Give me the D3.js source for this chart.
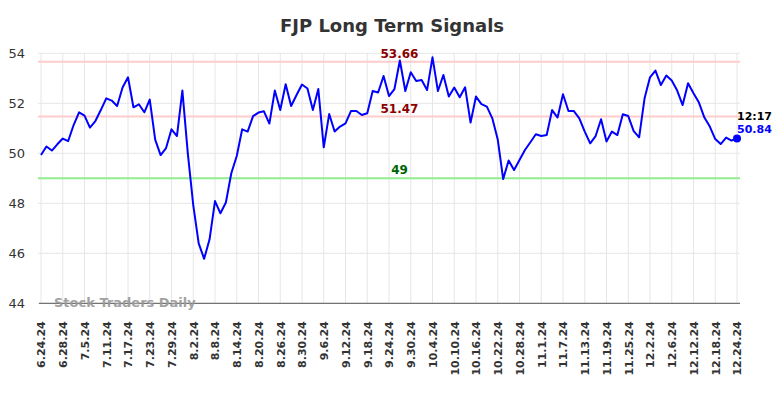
<!DOCTYPE html>
<html>
<head>
<meta charset="utf-8">
<script src="https://cdn.jsdelivr.net/npm/d3@7"></script>
<style>
  body { margin: 0; background: #fff; }
  svg { display: block; font-family: "DejaVu Sans", sans-serif; }
</style>
</head>
<body>
<svg width="784" height="398"></svg>
<script>
// tick labels, one every 4 trading days
const tickLabels = [
  "6.24.24", "6.28.24", "7.5.24", "7.11.24", "7.17.24", "7.23.24", "7.29.24",
  "8.2.24", "8.8.24", "8.14.24", "8.20.24", "8.26.24", "8.30.24", "9.6.24",
  "9.12.24", "9.18.24", "9.24.24", "9.30.24", "10.4.24", "10.10.24", "10.16.24",
  "10.22.24", "10.28.24", "11.1.24", "11.7.24", "11.13.24", "11.19.24",
  "11.25.24", "12.2.24", "12.6.24", "12.12.24", "12.18.24", "12.24.24"
];

// daily closes
const prices = [
  49.93, 50.27, 50.11, 50.36, 50.59, 50.49, 51.13, 51.64, 51.51, 51.03,
  51.29, 51.73, 52.20, 52.11, 51.89, 52.63, 53.04, 51.84, 51.96, 51.64,
  52.15, 50.55, 49.93, 50.21, 50.96, 50.69, 52.51, 50.00, 47.93, 46.40,
  45.78, 46.56, 48.09, 47.60, 48.03, 49.20, 49.89, 50.96, 50.87, 51.49,
  51.63, 51.68, 51.19, 52.51, 51.73, 52.76, 51.89, 52.33, 52.75, 52.59,
  51.73, 52.57, 50.24, 51.57, 50.87, 51.07, 51.20, 51.69, 51.69, 51.53,
  51.60, 52.49, 52.43, 53.09, 52.29, 52.57, 53.71, 52.49, 53.24, 52.89,
  52.93, 52.53, 53.84, 52.49, 53.13, 52.27, 52.63, 52.24, 52.64, 51.23,
  52.27, 51.97, 51.87, 51.40, 50.55, 48.97, 49.71, 49.33, 49.73, 50.13,
  50.44, 50.76, 50.69, 50.73, 51.73, 51.43, 52.36, 51.69, 51.69, 51.40,
  50.87, 50.40, 50.69, 51.36, 50.47, 50.87, 50.73, 51.56, 51.49, 50.89,
  50.64, 52.20, 53.04, 53.31, 52.73, 53.11, 52.91, 52.51, 51.93, 52.80,
  52.40, 52.03, 51.43, 51.07, 50.57, 50.37, 50.63, 50.51, 50.59
];

const yTicks = [44, 46, 48, 50, 52, 54];

const signals = [
  { value: 53.66, label: "53.66", line: "#ffcccc", text: "#8b0000" },
  { value: 51.47, label: "51.47", line: "#ffcccc", text: "#8b0000" },
  { value: 49, label: "49", line: "#90ee90", text: "#006400" }
];

const lastTime = "12:17";
const lastPrice = "50.84";

let svg = d3.select("svg");
let plotLeft = 41, plotRight = 737, plotTop = 53.3, plotBottom = 303.3;

let x = d3.scaleLinear().domain([0, prices.length - 1]).range([plotLeft, plotRight]);
let y = d3.scaleLinear().domain([44, 54]).range([plotBottom, plotTop]);

// title
svg.append("text")
  .attr("x", 392)
  .attr("y", 32)
  .attr("text-anchor", "middle")
  .style("font-size", "18px")
  .style("font-weight", "bold")
  .style("fill", "#333")
  .text("FJP Long Term Signals");

// grid
let tickIdx = tickLabels.map((d, i) => i * 4);

svg.append("g")
  .selectAll("line")
  .data(tickIdx)
  .enter()
  .append("line")
  .attr("x1", d => x(d))
  .attr("x2", d => x(d))
  .attr("y1", plotTop)
  .attr("y2", plotBottom)
  .style("stroke", "#e6e6e6")
  .style("stroke-width", 1);

svg.append("g")
  .selectAll("line")
  .data(yTicks)
  .enter()
  .append("line")
  .attr("x1", 38)
  .attr("x2", 740)
  .attr("y1", d => y(d))
  .attr("y2", d => y(d))
  .style("stroke", "#e6e6e6")
  .style("stroke-width", 1);

// y axis labels
let yAxis = svg.append("g")
  .attr("transform", `translate(${plotLeft - 16},0)`)
  .call(d3.axisLeft(y).tickValues(yTicks).tickSize(0).tickPadding(0));
yAxis.select(".domain").remove();
yAxis.selectAll("text")
  .style("font-size", "13px")
  .style("font-family", "DejaVu Sans, sans-serif")
  .style("fill", "#333");

// x axis labels
let xAxis = svg.append("g")
  .attr("transform", `translate(0,${plotBottom})`)
  .call(d3.axisBottom(x).tickValues(tickIdx).tickFormat((d, i) => tickLabels[i]).tickSize(0));
xAxis.select(".domain").remove();
xAxis.selectAll("text")
  .attr("transform", "rotate(-90)")
  .attr("text-anchor", "end")
  .attr("x", -18)
  .attr("y", 0)
  .attr("dy", "0.35em")
  .style("font-size", "11px")
  .style("font-weight", "bold")
  .style("font-family", "DejaVu Sans, sans-serif")
  .style("fill", "#333");

// signal lines
signals.forEach(s => {
  svg.append("line")
    .attr("x1", 38)
    .attr("x2", 740)
    .attr("y1", y(s.value))
    .attr("y2", y(s.value))
    .style("stroke", s.line)
    .style("stroke-width", 2);
});

// bottom axis line
svg.append("line")
  .attr("x1", 39)
  .attr("x2", 740)
  .attr("y1", plotBottom)
  .attr("y2", plotBottom)
  .style("stroke", "#555")
  .style("stroke-width", 1);

// watermark
svg.append("text")
  .attr("x", 54)
  .attr("y", 307)
  .style("font-size", "13px")
  .style("font-weight", "bold")
  .style("fill", "#999")
  .style("opacity", 0.9)
  .text("Stock Traders Daily");

// price line
let line = d3.line()
  .x((d, i) => x(i))
  .y(d => y(d));

svg.append("path")
  .datum(prices)
  .attr("d", line)
  .style("fill", "none")
  .style("stroke", "#0000ff")
  .style("stroke-width", 2)
  .style("stroke-linejoin", "round");

// signal labels
signals.forEach(s => {
  svg.append("text")
    .attr("x", 399.5)
    .attr("y", y(s.value) - 4)
    .attr("text-anchor", "middle")
    .style("font-size", "12px")
    .style("font-weight", "bold")
    .style("fill", s.text)
    .text(s.label);
});

// last point
let lastI = prices.length - 1;
svg.append("circle")
  .attr("cx", x(lastI))
  .attr("cy", y(prices[lastI]))
  .attr("r", 4)
  .style("fill", "#0000ff");

svg.append("text")
  .attr("x", x(lastI))
  .attr("y", 120)
  .style("font-size", "11px")
  .style("font-weight", "bold")
  .style("fill", "#000")
  .text(lastTime);

svg.append("text")
  .attr("x", x(lastI))
  .attr("y", 133)
  .style("font-size", "11px")
  .style("font-weight", "bold")
  .style("fill", "#0000ff")
  .text(lastPrice);
</script>
</body>
</html>
